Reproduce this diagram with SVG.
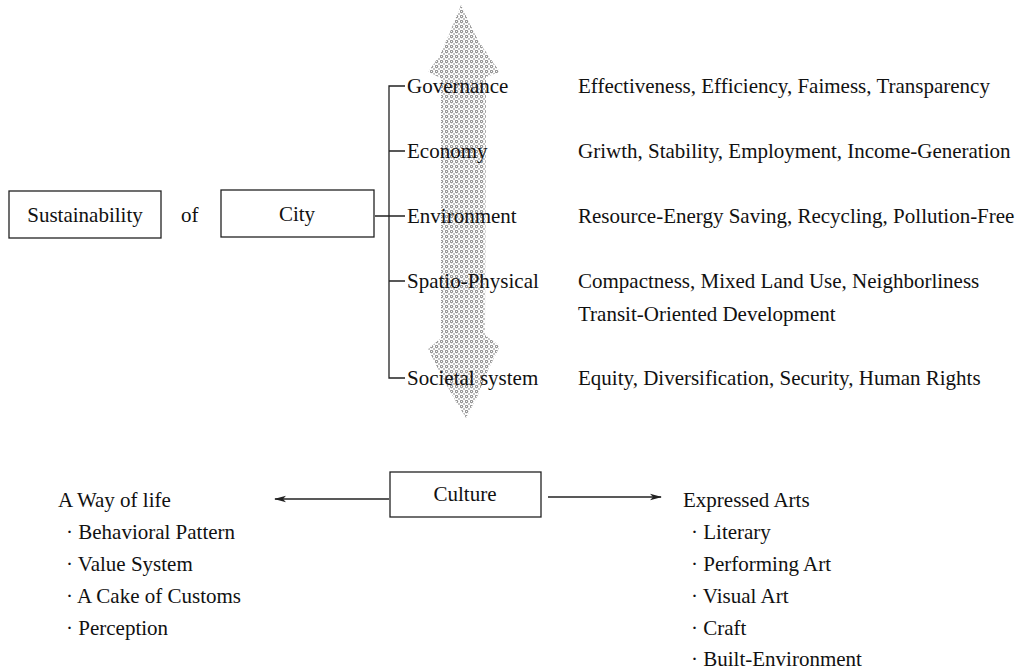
<svg xmlns="http://www.w3.org/2000/svg" width="1024" height="670" viewBox="0 0 1024 670">
<style>
text{font-family:"Liberation Serif","Times New Roman",serif;font-size:21px;fill:#111}
.box{fill:#fff;stroke:#222;stroke-width:1.3}
.ln{fill:none;stroke:#222;stroke-width:1.3}
</style>
<defs>
<pattern id="dots" width="5" height="5" patternUnits="userSpaceOnUse">
<circle cx="1.5" cy="1.5" r="1.2" fill="none" stroke="#555" stroke-width="0.9"/>
<circle cx="4" cy="4" r="0.8" fill="#777"/>
</pattern>
<marker id="ah" viewBox="0 0 12 8" refX="11" refY="4" markerWidth="12" markerHeight="8" markerUnits="userSpaceOnUse" orient="auto">
<path d="M0,0.8 L12,4 L0,7.2 L3,4 Z" fill="#222"/>
</marker>
</defs>
<g id="shade-arrow">
<path d="M461,5 L470,24 L478,40 L490,58 L500,72 L486,77 L485,335 L500,346 L488,370 L478,395 L466,418 L455,400 L441,375 L428,349 L441,338 L441,78 L428,72 L440,55 L450,32 Z" fill="url(#dots)"/>
</g>
<g id="connectors">
<path class="ln" d="M405,86 H389 V378 H405"/>
<path class="ln" d="M389,151 H405 M389,216 H405 M389,281 H405 M375,216 H389"/>
<line class="ln" x1="389" y1="499" x2="275" y2="499" marker-end="url(#ah)"/>
<line class="ln" x1="548" y1="497" x2="661" y2="497" marker-end="url(#ah)"/>
</g>
<g id="node-sustainability">
<rect class="box" x="9" y="191" width="152" height="47"/>
<text x="85" y="222" text-anchor="middle">Sustainability</text>
</g>
<g id="label-of"><text x="181" y="222">of</text></g>
<g id="node-city">
<rect class="box" x="221" y="190" width="153" height="47"/>
<text x="297" y="221" text-anchor="middle">City</text>
</g>
<g id="node-governance"><text x="407" y="93">Governance</text></g>
<g id="node-economy"><text x="407" y="158">Economy</text></g>
<g id="node-environment"><text x="407" y="223">Environment</text></g>
<g id="node-spatio"><text x="407" y="288">Spatio-Physical</text></g>
<g id="node-societal"><text x="407" y="385">Societal system</text></g>
<g id="desc">
<text x="578" y="93">Effectiveness, Efficiency, Faimess, Transparency</text>
<text x="578" y="158">Griwth, Stability, Employment, Income-Generation</text>
<text x="578" y="223">Resource-Energy Saving, Recycling, Pollution-Free</text>
<text x="578" y="288">Compactness, Mixed Land Use, Neighborliness</text>
<text x="578" y="321">Transit-Oriented Development</text>
<text x="578" y="385">Equity, Diversification, Security, Human Rights</text>
</g>
<g id="node-culture">
<rect class="box" x="390" y="472" width="151" height="45"/>
<text x="465" y="501" text-anchor="middle">Culture</text>
</g>
<g id="node-way-of-life">
<text x="58" y="507">A Way of life</text>
<text x="66" y="539">· Behavioral Pattern</text>
<text x="66" y="571">· Value System</text>
<text x="66" y="603">· A Cake of Customs</text>
<text x="66" y="635">· Perception</text>
</g>
<g id="node-expressed-arts">
<text x="683" y="507">Expressed Arts</text>
<text x="691" y="539">· Literary</text>
<text x="691" y="571">· Performing Art</text>
<text x="691" y="603">· Visual Art</text>
<text x="691" y="635">· Craft</text>
<text x="691" y="666">· Built-Environment</text>
</g>
</svg>
